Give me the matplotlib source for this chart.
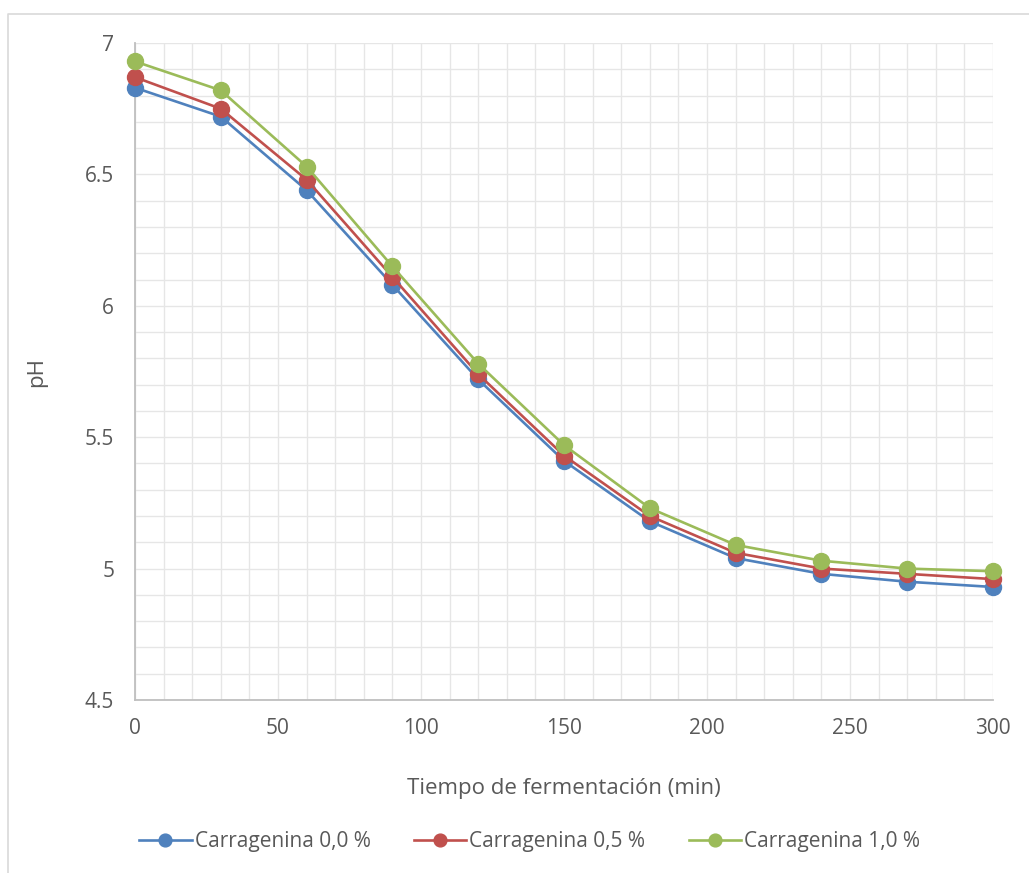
import matplotlib.pyplot as plt
from matplotlib.ticker import MultipleLocator
from matplotlib.lines import Line2D

# tiempo (min) y pH por concentracion de carragenina
tiempo = [0, 30, 60, 90, 120, 150, 180, 210, 240, 270, 300]
ph_00 = [6.83, 6.72, 6.44, 6.08, 5.72, 5.41, 5.18, 5.04, 4.98, 4.95, 4.93]
ph_05 = [6.87, 6.75, 6.48, 6.11, 5.74, 5.43, 5.20, 5.06, 5.00, 4.98, 4.96]
ph_10 = [6.93, 6.82, 6.53, 6.15, 5.78, 5.47, 5.23, 5.09, 5.03, 5.00, 4.99]

series = [(ph_00, '#4F81BD', 'Carragenina 0,0 %'),
          (ph_05, '#C0504D', 'Carragenina 0,5 %'),
          (ph_10, '#9BBB59', 'Carragenina 1,0 %')]

plt.rcParams['font.family'] = ['Open Sans', 'DejaVu Sans']
gris = '#595959'

fig = plt.figure(figsize=(10.29, 8.73), dpi=100)
ax = fig.add_axes([0.1312, 0.1982, 0.8338, 0.7525])

for y, c, lab in series:
    ax.plot(tiempo, y, color=c, lw=1.9, marker='o', ms=11.5, label=lab,
            clip_on=False, zorder=3)

ax.set_xlim(0, 300)
ax.set_ylim(4.5, 7)
ax.xaxis.set_major_locator(MultipleLocator(50))
ax.xaxis.set_minor_locator(MultipleLocator(10))
ax.yaxis.set_major_locator(MultipleLocator(0.5))
ax.yaxis.set_minor_locator(MultipleLocator(0.1))
ax.yaxis.set_major_formatter(plt.FuncFormatter(lambda v, p: f'{v:g}'))
ax.grid(which='both', color='#E6E6E6', lw=1.0)
ax.set_axisbelow(True)

for s in ['top', 'right']:
    ax.spines[s].set_visible(False)
for s in ['left', 'bottom']:
    ax.spines[s].set_color('#BFBFBF')
    ax.spines[s].set_linewidth(1.3)

ax.tick_params(which='both', length=0, labelsize=15, colors=gris)
ax.tick_params(axis='y', pad=15)
ax.tick_params(axis='x', pad=13)
ax.set_xlabel('Tiempo de fermentación (min)', fontsize=16, color=gris, labelpad=28)
ax.set_ylabel('pH', fontsize=16, color=gris, labelpad=0)
ax.yaxis.set_label_coords(-0.103, 0.5)

fig.legend(loc='center', bbox_to_anchor=(0.515, 0.036), ncol=3, frameon=False,
           fontsize=15, labelcolor=gris, handlelength=2.5, handletextpad=0.15,
           columnspacing=2.1, markerscale=0.8)

# marco exterior (solo lados izquierdo y superior visibles)
fig.add_artist(Line2D([8 / 1029, 8 / 1029, 1.0], [0.0, 1 - 14 / 873, 1 - 14 / 873],
                      transform=fig.transFigure, color='#D9D9D9', lw=1.2))

fig.savefig('out.png', dpi=100)
